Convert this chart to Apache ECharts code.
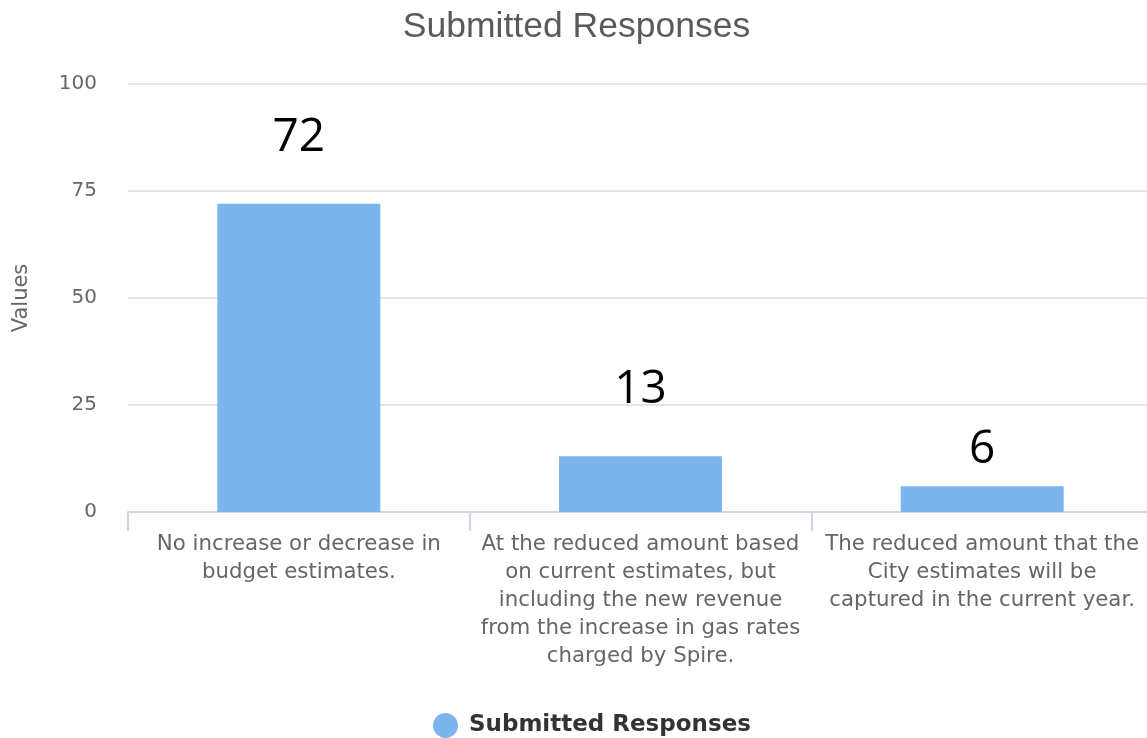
<!DOCTYPE html>
<html>
<head>
<meta charset="utf-8">
<script src="https://cdn.jsdelivr.net/npm/echarts@6/dist/echarts.min.js"></script>
<style>
  html, body { margin: 0; padding: 0; background: #fff; overflow: hidden; }
  /* canvas runs a few pixels past the window so the last category is clipped */
  #chart { width: 1153px; height: 738px; }
</style>
</head>
<body>
<div id="chart"></div>
<script>
// Survey answers (wrapped the way they appear under the axis)
const categories = [
  'No increase or decrease in\nbudget estimates.',
  'At the reduced amount based\non current estimates, but\nincluding the new revenue\nfrom the increase in gas rates\ncharged by Spire.',
  'The reduced amount that the\nCity estimates will be\ncaptured in the current year.'
];
const responses = [72, 13, 6];
const labelDistances = [43, 43, 13];
const yTicks = [0, 25, 50, 75, 100];

const chart = echarts.init(document.getElementById('chart'), null, { renderer: 'canvas' });

chart.setOption({
  animation: false,
  backgroundColor: '#ffffff',
  title: {
    text: 'Submitted Responses',
    left: 'center',
    top: 4,
    textStyle: {
      fontFamily: 'Liberation Sans',
      fontSize: 35.5,
      fontWeight: 'normal',
      color: '#5a5a5a'
    }
  },
  legend: {
    bottom: -5,
    left: 428,
    icon: 'circle',
    itemWidth: 25,
    itemHeight: 25,
    itemGap: 20,
    textStyle: {
      fontFamily: 'DejaVu Sans',
      fontSize: 23,
      fontWeight: 'bold',
      color: '#333333',
      padding: [0, 0, 0, 6]
    },
    data: ['Submitted Responses']
  },
  grid: { left: 128, right: 0, top: 84, bottom: 226, containLabel: false },
  xAxis: {
    type: 'category',
    data: categories,
    boundaryGap: true,
    axisLine: { show: true, lineStyle: { color: '#ccd6eb', width: 2 } },
    axisTick: { show: true, length: 19, lineStyle: { color: '#ccd6eb', width: 2 } },
    axisLabel: {
      interval: 0,
      margin: 18,
      fontFamily: 'DejaVu Sans',
      fontSize: 21.3,
      lineHeight: 28,
      color: '#666666',
      align: 'center'
    }
  },
  yAxis: {
    type: 'value',
    min: yTicks[0],
    max: yTicks[yTicks.length - 1],
    interval: 25,
    name: 'Values',
    nameLocation: 'middle',
    nameGap: 96,
    nameRotate: 90,
    nameTextStyle: { fontFamily: 'DejaVu Sans', fontSize: 21, color: '#666666' },
    axisLine: { show: false },
    axisTick: { show: false },
    axisLabel: { margin: 31, fontFamily: 'DejaVu Sans', fontSize: 20, color: '#666666' },
    splitLine: { lineStyle: { color: '#e6e6e6', width: 2 } }
  },
  series: [{
    name: 'Submitted Responses',
    type: 'bar',
    barWidth: 163,
    itemStyle: { color: '#7cb5ec' },
    data: responses.map((v, i) => ({
      value: v,
      label: { distance: labelDistances[i] }
    })),
    label: {
      show: true,
      position: 'top',
      fontFamily: 'Open Sans',
      fontSize: 46,
      color: '#000000'
    }
  }]
});
</script>
</body>
</html>
